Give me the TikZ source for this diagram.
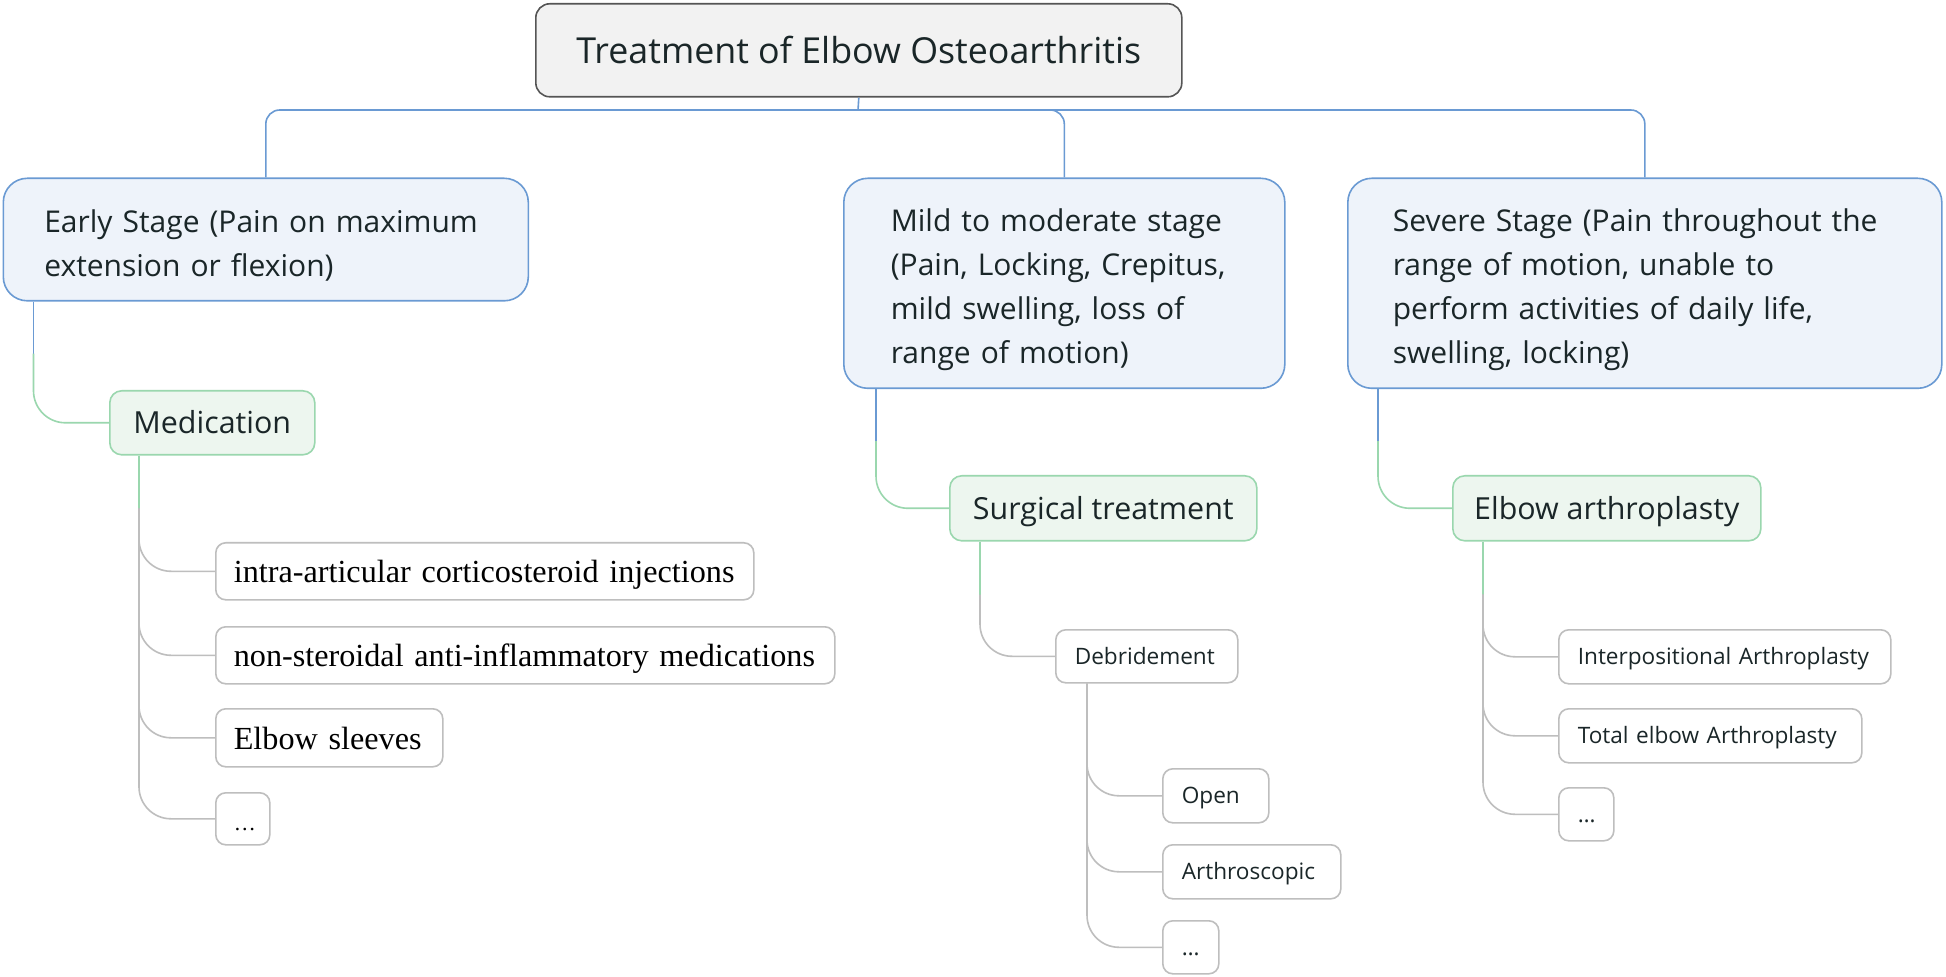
\documentclass[tikz,border=0pt]{standalone}
\usepackage{fontspec}
\setmainfont{Open Sans}
\newfontfamily\timesfont{Liberation Serif}
\definecolor{txt}{HTML}{1A2628}
\definecolor{bluefill}{HTML}{EEF3FA}
\definecolor{bluecol}{HTML}{6A9AD3}
\definecolor{greenfill}{HTML}{EDF6EF}
\definecolor{greencol}{HTML}{9AD7AE}
\definecolor{graycol}{HTML}{BEBEBE}
\definecolor{rootfill}{HTML}{F2F2F2}
\definecolor{rootcol}{HTML}{555555}
\newcommand\stagestrut{\rule{0pt}{17.5pt}}
\tikzset{
 base/.style={anchor=north west, inner sep=0pt, line width=0.8pt, text=txt},
 rootbox/.style={base, draw=rootcol, fill=rootfill, rounded corners=7pt, font=\fontsize{17.9pt}{21pt}\selectfont, text height=13pt, text depth=0pt},
 stagebox/.style={base, draw=bluecol, fill=bluefill, rounded corners=12pt, font=\fontsize{15pt}{22pt}\selectfont, align=left},
 greenbox/.style={base, draw=greencol, fill=greenfill, rounded corners=6pt, font=\fontsize{15.2pt}{18pt}\selectfont, text height=11pt, text depth=0pt},
 leafbox/.style={base, draw=graycol, fill=white, rounded corners=5pt, font=\fontsize{11.3pt}{13.6pt}\selectfont, align=left, inner xsep=9.5pt, text height=8pt, text depth=0pt},
 serifbox/.style={base, draw=graycol, fill=white, rounded corners=5pt, font=\timesfont\fontsize{16.1pt}{19pt}\selectfont, align=left, inner xsep=9pt, text height=11.5pt, text depth=0pt, text=black},
 bline/.style={draw=bluecol, line width=0.8pt},
 gline/.style={draw=greencol, line width=0.8pt},
 yline/.style={draw=graycol, line width=0.8pt},
}
\begin{document}
\begin{tikzpicture}[x=0.5pt,y=-0.5pt]
\fill[white] (0,0) rectangle (1946,977);
\useasboundingbox (0,0) rectangle (1946,977);

% root
\node[rootbox, minimum width=323pt, minimum height=46.5pt] (root) at (535,3) {Treatment of Elbow Osteoarthritis};

% stages
\node[stagebox, inner xsep=20.5pt, text width=221.5pt, minimum height=61.25pt] (early) at (2.5,177.5)
 {\stagestrut\mbox{Early Stage (Pain on maximum}\\\mbox{extension or flexion)}};
\node[stagebox, inner xsep=23.5pt, text width=173.5pt, minimum height=105pt] (mild) at (843,177.5)
 {\stagestrut\mbox{Mild to moderate stage}\\\mbox{(Pain, Locking, Crepitus,}\\\mbox{mild swelling, loss of}\\\mbox{range of motion)}};
\node[stagebox, inner xsep=22.5pt, text width=252pt, minimum height=105pt] (severe) at (1347,177.5)
 {\stagestrut\mbox{Severe Stage (Pain throughout the}\\\mbox{range of motion, unable to}\\\mbox{perform activities of daily life,}\\\mbox{swelling, locking)}};

% green
\node[greenbox, minimum width=102.5pt, minimum height=32pt] (med) at (109,390) {Medication};
\node[greenbox, minimum width=153.5pt, minimum height=32.5pt] (surg) at (949,475) {Surgical treatment};
\node[greenbox, minimum width=154pt, minimum height=32.5pt] (arth) at (1452,475) {Elbow arthroplasty};

% medication leaves
\node[serifbox, text width=251pt, minimum height=28.5pt] (c1) at (215,542) {\mbox{intra-articular corticosteroid injections}};
\node[serifbox, text width=291.5pt, minimum height=28.5pt] (c2) at (215,626) {\mbox{non-steroidal anti-inflammatory medications}};
\node[serifbox, text width=95.5pt, minimum height=29pt] (c3) at (215,708) {\mbox{Elbow sleeves}};
\node[serifbox, text width=9pt, minimum height=26pt] (c4) at (215,792) {\mbox{\fontsize{11pt}{13pt}\selectfont …}};

% surgical leaves
\node[leafbox, text width=72pt, minimum height=26.5pt] (deb) at (1055,629) {\mbox{Debridement}};
\node[leafbox, text width=34pt, minimum height=27pt] (d1) at (1162,768) {\mbox{Open}};
\node[leafbox, text width=70pt, minimum height=27pt] (d2) at (1162,844) {\mbox{Arthroscopic}};
\node[leafbox, text width=9pt, minimum height=26.5pt] (d3) at (1162,920) {\mbox{…}};

% arthroplasty leaves
\node[leafbox, text width=147pt, minimum height=27pt] (a1) at (1558,629) {\mbox{Interpositional Arthroplasty}};
\node[leafbox, text width=132.5pt, minimum height=27pt] (a2) at (1558,708) {\mbox{Total elbow Arthroplasty}};
\node[leafbox, text width=8.5pt, minimum height=26.5pt] (a3) at (1558,787) {\mbox{…}};

% top bus
\coordinate (bus) at (858,110);
\draw[bline] (root.south) -- (bus);
\draw[bline, rounded corners=7pt] (early.north) |- (bus) -| (severe.north);
\draw[bline, rounded corners=7pt] (bus) -| (mild.north);

% stage -> green
\path ([xshift=15.5pt]early.south west) coordinate (eA);
\path (eA) ++(0,52) coordinate (eB);
\draw[bline] (eA) -- (eB);
\draw[gline, rounded corners=16pt] (eB) |- (med.west);

\path ([xshift=16.5pt]mild.south west) coordinate (mA);
\path (mA) ++(0,52) coordinate (mB);
\draw[bline] (mA) -- (mB);
\draw[gline, rounded corners=16pt] (mB) |- (surg.west);

\path ([xshift=15.5pt]severe.south west) coordinate (sA);
\path (sA) ++(0,52) coordinate (sB);
\draw[bline] (sA) -- (sB);
\draw[gline, rounded corners=16pt] (sB) |- (arth.west);

% medication -> leaves
\path ([xshift=15pt]med.south west) coordinate (medA);
\path (medA) ++(0,53) coordinate (medB);
\draw[gline] (medA) -- (medB);
\foreach \n in {c1,c2,c3,c4} \draw[yline, rounded corners=16pt] (medB) |- (\n.west);

% surgical -> debridement
\path ([xshift=15.5pt]surg.south west) coordinate (surA);
\path (surA) ++(0,53) coordinate (surB);
\draw[gline] (surA) -- (surB);
\draw[yline, rounded corners=16pt] (surB) |- (deb.west);

% debridement -> leaves
\path ([xshift=16pt]deb.south west) coordinate (debA);
\foreach \n in {d1,d2,d3} \draw[yline, rounded corners=16pt] (debA) |- (\n.west);

% arthroplasty -> leaves
\path ([xshift=15.5pt]arth.south west) coordinate (arA);
\path (arA) ++(0,53) coordinate (arB);
\draw[gline] (arA) -- (arB);
\foreach \n in {a1,a2,a3} \draw[yline, rounded corners=16pt] (arB) |- (\n.west);
\end{tikzpicture}
\end{document}
